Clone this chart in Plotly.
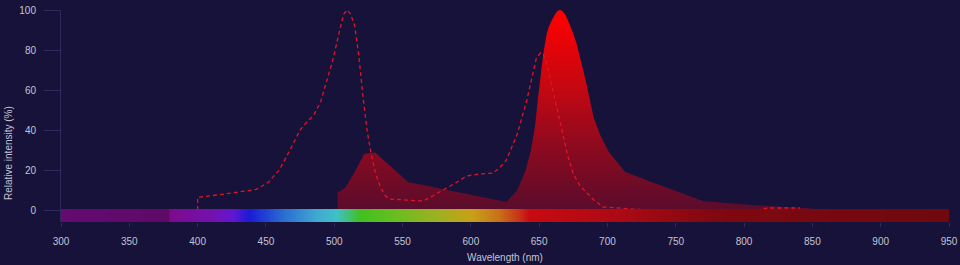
import numpy as np
import plotly.graph_objects as go

# ---- data ----
excitation_wl = [400, 400, 420, 443, 452, 460, 467.6, 475, 480, 485, 490, 494.5, 499, 504, 507, 509.5, 512, 515,
                 518, 521, 524, 527, 530, 533.5, 537, 540, 550, 565, 572, 580, 590, 597, 606, 616, 621, 626,
                 634, 641, 645, 648, 651, 653, 656, 659, 663, 667.5, 671, 675, 680, 685, 690, 697, 710, 721,
                 730, 810, 817, 841]
excitation_val = [0, 6.3, 8, 10.3, 14, 20.3, 30, 40, 44, 47.5, 54, 65, 75, 90, 98, 100, 98, 92,
                  77, 57, 40, 28, 19, 12, 7.5, 5.5, 5, 4.5, 7, 10, 14, 17, 18, 18.5, 21, 25,
                  38, 55, 67, 76, 78.6, 78, 72, 63, 50, 38, 27, 18, 12, 8.5, 5, 1.5, 0.8, 0.5,
                  0, 0, 1, 1]

emission_wl = [502.5, 508, 515, 522, 530, 554, 600, 626, 634, 640, 644, 647, 649, 651, 653, 655.5, 657,
               659, 660.5, 662, 663.5, 665, 666.5, 668.5, 670, 672, 674, 677.5, 684, 690, 695, 701, 713,
               740, 770, 800, 836, 850]
emission_val = [8.7, 11, 19, 28, 28.7, 14, 7.6, 4, 10, 19.5, 30, 42, 55, 67, 78, 88, 91.5,
                94.5, 96.5, 98.3, 99.5, 100, 99.7, 98.3, 96.5, 93.5, 90, 83, 65, 46, 37, 29, 19,
                12, 4.5, 2.7, 1.3, 0.8]

# visible spectrum strip: wavelength stops and colours
spectrum_wl = [300, 379, 380, 414, 426, 438, 462, 487, 502, 519, 541, 577, 601, 621, 636, 643, 700, 780, 950]
spectrum_col = ["#640a72", "#5e0a68", "#7c0a8c", "#7212b4", "#6018d0", "#1a1ad8", "#2a6ad0", "#40a8d0",
                "#40c0c8", "#40c020", "#60c020", "#a0b020", "#c8a018", "#c87018", "#c83018", "#c80a10",
                "#b00a14", "#800810", "#700810"]
x_ticks = list(range(300, 951, 50))
y_ticks = [0, 20, 40, 60, 80, 100]

BG = "#16123a"
TXT = "#c4c4d4"
AX = "#2e2a60"
FONT = "Liberation Sans"

fig = go.Figure()

fig.add_trace(go.Scatter(
    x=emission_wl, y=emission_val, mode="lines", fill="tozeroy",
    line=dict(color="rgba(0,0,0,0)", width=0),
    fillgradient=dict(type="vertical", start=0, stop=100,
                      colorscale=[[0, "#5a0c2c"], [0.3, "#8a0a20"], [0.6, "#c20812"], [1, "#ff0000"]]),
    hoverinfo="skip", showlegend=False))

fig.add_trace(go.Scatter(
    x=excitation_wl, y=excitation_val, mode="lines",
    line=dict(color="#e01424", width=1.3, dash="4px,3px"),
    hoverinfo="skip", showlegend=False))

# spectrum strip drawn on an overlaid axis so it sits above the curves
lo, hi = spectrum_wl[0], spectrum_wl[-1]
cscale = [[(w - lo) / (hi - lo), c] for w, c in zip(spectrum_wl, spectrum_col)]
edges = np.linspace(lo, hi, 651)
centers = (edges[:-1] + edges[1:]) / 2
fig.add_trace(go.Heatmap(
    x=edges, y=[-6, 0.5], z=[centers], colorscale=cscale, zmin=lo, zmax=hi,
    showscale=False, hoverinfo="skip", xaxis="x", yaxis="y2"))

fig.update_layout(
    width=960, height=265,
    margin=dict(l=61, r=11, t=10, b=43, autoexpand=False),
    paper_bgcolor=BG, plot_bgcolor=BG,
    font=dict(family=FONT, size=10, color=TXT),
    xaxis=dict(range=[300, 950], tickvals=x_ticks, ticks="outside", ticklen=4, tickcolor=AX,
               showgrid=False, zeroline=False, showline=False, automargin=False,
               tickfont=dict(size=10, color=TXT), ticklabelstandoff=6,
               title=dict(text="Wavelength (nm)", font=dict(size=10, color=TXT), standoff=7)),
    yaxis=dict(range=[-6, 100], tickvals=y_ticks, ticks="outside", ticklen=16, tickcolor=AX,
               showgrid=False, zeroline=False, showline=True, linecolor=AX, linewidth=1,
               automargin=False, tickfont=dict(size=10, color=TXT), ticklabelstandoff=6),
    yaxis2=dict(range=[-6, 100], overlaying="y", visible=False),
    annotations=[dict(text="Relative intensity (%)", textangle=-90, xref="paper", yref="paper",
                      x=-0.0597, y=0.325, xanchor="center", yanchor="middle", showarrow=False,
                      font=dict(size=10, color=TXT))],
)

fig.write_html("out.html")
